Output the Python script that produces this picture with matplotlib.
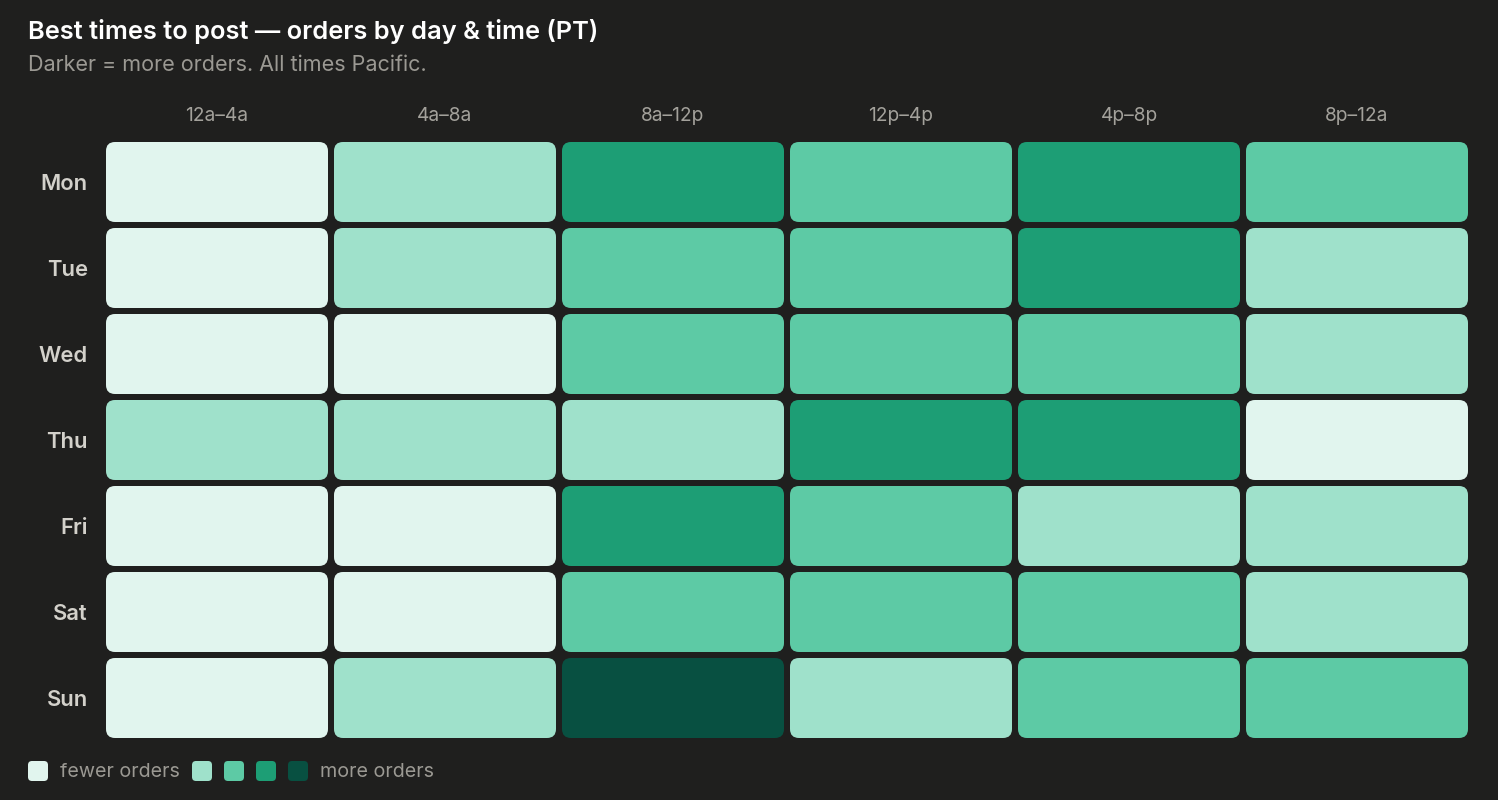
import numpy as np
import matplotlib.pyplot as plt
from matplotlib.patches import FancyBboxPatch

plt.rcParams['font.family'] = ['Inter', 'DejaVu Sans']

# data
days = ['Mon', 'Tue', 'Wed', 'Thu', 'Fri', 'Sat', 'Sun']
slots = ['12a–4a', '4a–8a', '8a–12p', '12p–4p', '4p–8p', '8p–12a']
levels = np.array([
    [0, 1, 3, 2, 3, 2],
    [0, 1, 2, 2, 3, 1],
    [0, 0, 2, 2, 2, 1],
    [1, 1, 1, 3, 3, 0],
    [0, 0, 3, 2, 1, 1],
    [0, 0, 2, 2, 2, 1],
    [0, 1, 4, 1, 2, 2],
])
palette = ['#e1f5ee', '#9fe1cb', '#5dcaa5', '#1d9e75', '#085041']

bg = '#1f1f1e'
W, H = 1498, 800

fig = plt.figure(figsize=(W / 100, H / 100), dpi=100, facecolor=bg)
ax = fig.add_axes([0, 0, 1, 1])
ax.set_xlim(0, W)
ax.set_ylim(H, 0)
ax.axis('off')
ax.set_facecolor(bg)

# layout in pixels
x0, y0 = 106, 142
cw, ch = 222, 80
gx, gy = 6, 6

for i, d in enumerate(days):
    for j, s in enumerate(slots):
        x = x0 + j * (cw + gx)
        y = y0 + i * (ch + gy)
        ax.add_patch(FancyBboxPatch((x, y), cw, ch,
                                    boxstyle='round,pad=0,rounding_size=9',
                                    fc=palette[levels[i, j]], ec='none'))
    ax.text(x0 - 18, y0 + i * (ch + gy) + ch / 2 + 2, d, ha='right', va='center',
            fontsize=15.8, fontweight='semibold', color='#d3d1cb')

for j, s in enumerate(slots):
    ax.text(x0 + j * (cw + gx) + cw / 2, 116, s, ha='center', va='center',
            fontsize=13.8, color='#a3a19b')

ax.text(28, 31, 'Best times to post — orders by day & time (PT)', ha='left', va='center',
        fontsize=18.3, fontweight='semibold', color='#ffffff')
ax.text(28, 65, 'Darker = more orders. All times Pacific.', ha='left', va='center',
        fontsize=15.5, color='#9b9993')

# legend
ly = 771
sq = 20
ax.add_patch(FancyBboxPatch((28, ly - sq / 2), sq, sq, boxstyle='round,pad=0,rounding_size=4',
                            fc=palette[0], ec='none'))
ax.text(60, ly + 1, 'fewer orders', ha='left', va='center', fontsize=14.2, color='#9b9993')
for k in range(1, 5):
    ax.add_patch(FancyBboxPatch((192 + (k - 1) * 32, ly - sq / 2), sq, sq,
                                boxstyle='round,pad=0,rounding_size=4',
                                fc=palette[k], ec='none'))
ax.text(320, ly + 1, 'more orders', ha='left', va='center', fontsize=14.2, color='#9b9993')

fig.savefig('out.png', dpi=100, facecolor=bg)
